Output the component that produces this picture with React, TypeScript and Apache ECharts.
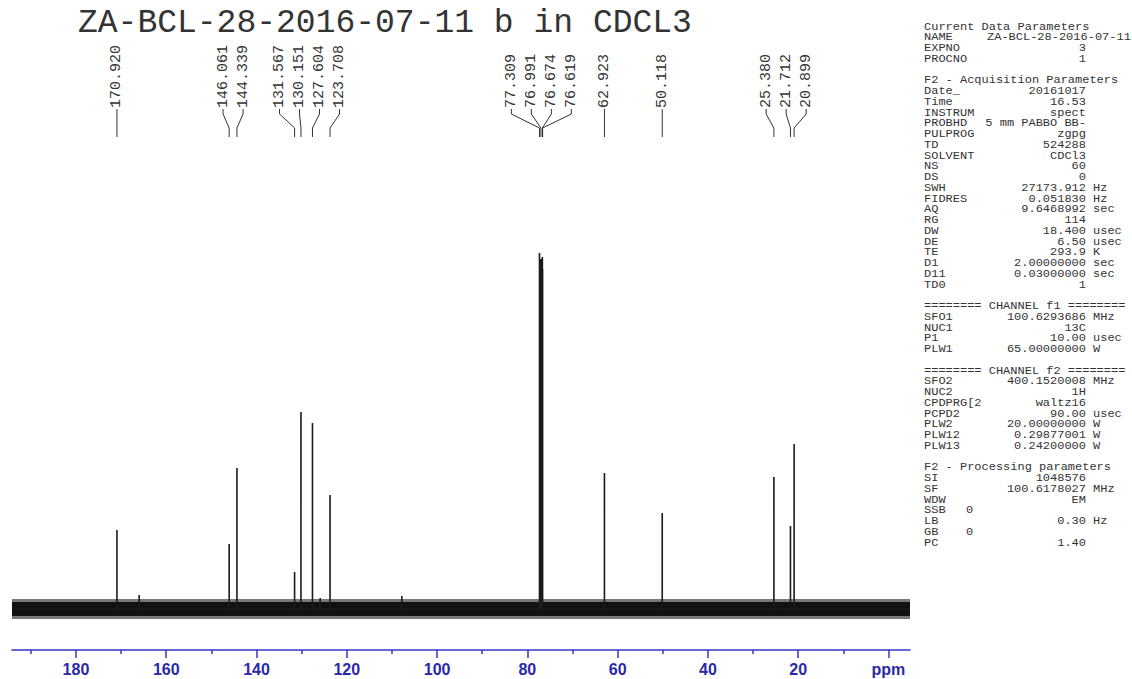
import React, { useEffect, useRef } from "react";
import * as echarts from "echarts";

// ---------- data ----------
const titleText = "ZA-BCL-28-2016-07-11 b in CDCL3";

const peakPpm = [170.92, 146.061, 144.339, 131.567, 130.151, 127.604, 123.708, 77.309, 76.991, 76.674, 76.619, 62.923, 50.118, 25.38, 21.712, 20.899];
const peakHeight = [79, 65, 141, 37, 197, 186, 114, 356, 350, 352, 340, 136, 96, 132, 83, 165];
const peakLabels = ["170.920", "146.061", "144.339", "131.567", "130.151", "127.604", "123.708", "77.309", "76.991", "76.674", "76.619", "62.923", "50.118", "25.380", "21.712", "20.899"];

// small noise spikes visible above the baseline band
const spikePpm = [166.0, 107.8, 125.9];
const spikeHeight = [14, 13, 11];

const majorTicks = [0, 20, 40, 60, 80, 100, 120, 140, 160, 180];
const minorTicks = [10, 30, 50, 70, 90, 110, 130, 150, 170, 190];

const noiseCore = 7;
const noiseFringe = 10;

const xMin = -4.77;
const xMax = 194.17;
const yMin = -41;
const yMax = 459;

// parameter panel: [name, value, unit, mode]  mode: h=heading, r=right aligned value, n/l=left value, b=blank
const paramLines: [string, string, string, string][] = [
  ["Current Data Parameters", "", "", "h"],
  ["NAME", "ZA-BCL-28-2016-07-11", "", "n"],
  ["EXPNO", "3", "", "r"],
  ["PROCNO", "1", "", "r"],
  ["", "", "", "b"],
  ["F2 - Acquisition Parameters", "", "", "h"],
  ["Date_", "20161017", "", "r"],
  ["Time", "16.53", "", "r"],
  ["INSTRUM", "spect", "", "r"],
  ["PROBHD", "5 mm PABBO BB-", "", "r"],
  ["PULPROG", "zgpg", "", "r"],
  ["TD", "524288", "", "r"],
  ["SOLVENT", "CDCl3", "", "r"],
  ["NS", "60", "", "r"],
  ["DS", "0", "", "r"],
  ["SWH", "27173.912", "Hz", "r"],
  ["FIDRES", "0.051830", "Hz", "r"],
  ["AQ", "9.6468992", "sec", "r"],
  ["RG", "114", "", "r"],
  ["DW", "18.400", "usec", "r"],
  ["DE", "6.50", "usec", "r"],
  ["TE", "293.9", "K", "r"],
  ["D1", "2.00000000", "sec", "r"],
  ["D11", "0.03000000", "sec", "r"],
  ["TD0", "1", "", "r"],
  ["", "", "", "b"],
  ["======== CHANNEL f1 ========", "", "", "h"],
  ["SFO1", "100.6293686", "MHz", "r"],
  ["NUC1", "13C", "", "r"],
  ["P1", "10.00", "usec", "r"],
  ["PLW1", "65.00000000", "W", "r"],
  ["", "", "", "b"],
  ["======== CHANNEL f2 ========", "", "", "h"],
  ["SFO2", "400.1520008", "MHz", "r"],
  ["NUC2", "1H", "", "r"],
  ["CPDPRG[2", "waltz16", "", "r"],
  ["PCPD2", "90.00", "usec", "r"],
  ["PLW2", "20.00000000", "W", "r"],
  ["PLW12", "0.29877001", "W", "r"],
  ["PLW13", "0.24200000", "W", "r"],
  ["", "", "", "b"],
  ["F2 - Processing parameters", "", "", "h"],
  ["SI", "1048576", "", "r"],
  ["SF", "100.6178027", "MHz", "r"],
  ["WDW", "EM", "", "r"],
  ["SSB", "0", "", "l"],
  ["LB", "0.30", "Hz", "r"],
  ["GB", "0", "", "l"],
  ["PC", "1.40", "", "r"],
];

// ---------- styles ----------
const MONO = '"Liberation Mono", "DejaVu Sans Mono", monospace';
const INK = "#333333";
const AXIS_BLUE = "#3535c8";
const LABEL_BLUE = "#2a2aa8";

function txt(x: number, y: number, text: string, font: string, align: string, extra: any = {}, lineHeight?: number) {
  const style: any = {
    text,
    font,
    fill: INK,
    align,
    textAlign: align,
    verticalAlign: "middle",
    textVerticalAlign: "middle",
  };
  if (lineHeight) style.lineHeight = lineHeight;
  return { type: "text", x, y, silent: true, ...extra, style };
}

export default function App() {
  const ref = useRef<HTMLDivElement>(null);

  useEffect(() => {
    const chart = echarts.init(ref.current!, null, { renderer: "svg" });

    const sticks: number[][] = [];
    const all = peakPpm
      .map((p, i) => [p, peakHeight[i]])
      .concat(spikePpm.map((p, i) => [p, spikeHeight[i]]))
      .sort((a, b) => b[0] - a[0]);
    sticks.push([xMax, 0]);
    for (const [p, h] of all) {
      sticks.push([p, 0], [p, h], [p, 0]);
    }
    sticks.push([xMin, 0]);

    const option: any = {
      animation: false,
      grid: { left: 12, right: 222, top: 150, bottom: 29, containLabel: false },
      xAxis: [
        {
          type: "value",
          inverse: true,
          min: xMin,
          max: xMax,
          position: "bottom",
          splitLine: { show: false },
          axisLine: { show: true, onZero: false, lineStyle: { color: AXIS_BLUE, width: 1.5 } },
          axisTick: { show: true, customValues: majorTicks, length: 8, lineStyle: { color: AXIS_BLUE, width: 1.5 } },
          axisLabel: {
            show: true,
            customValues: majorTicks,
            margin: 11,
            color: LABEL_BLUE,
            fontFamily: '"Liberation Sans", Arial, sans-serif',
            fontWeight: "bold",
            fontSize: 16,
            formatter: (v: number) => (v === 0 ? "ppm" : String(v)),
          },
        },
        {
          type: "value",
          inverse: true,
          min: xMin,
          max: xMax,
          position: "bottom",
          splitLine: { show: false },
          axisLine: { show: false, onZero: false },
          axisTick: { show: true, customValues: minorTicks, length: 4, lineStyle: { color: AXIS_BLUE, width: 1.5 } },
          axisLabel: { show: false },
        },
      ],
      yAxis: {
        type: "value",
        min: yMin,
        max: yMax,
        show: false,
        splitLine: { show: false },
      },
      series: [
        {
          type: "line",
          xAxisIndex: 0,
          data: sticks,
          symbol: "none",
          silent: true,
          lineStyle: { color: "#1a1a1a", width: 1.6 },
          markArea: {
            silent: true,
            data: [
              [
                { xAxis: xMax, yAxis: -noiseFringe, itemStyle: { color: "rgba(30,30,30,0.6)" } },
                { xAxis: xMin, yAxis: noiseFringe },
              ],
              [
                { xAxis: xMax, yAxis: -noiseCore, itemStyle: { color: "#111111" } },
                { xAxis: xMin, yAxis: noiseCore },
              ],
            ],
          },
          z: 3,
        },
      ],
    };
    chart.setOption(option);

    // ---------- annotation graphics ----------
    const graphics: any[] = [];
    graphics.push(txt(78, 23, titleText, `33px ${MONO}`, "left"));

    // peak labels: cluster peaks whose labels would collide, spread labels 20px apart around the cluster mean
    const labelGap = 20;
    const px = peakPpm.map((p) => chart.convertToPixel({ xAxisIndex: 0 }, p) as number);
    const order = peakPpm.map((_, i) => i).sort((a, b) => px[a] - px[b]);
    const groups: number[][] = [];
    for (const i of order) {
      const g = groups[groups.length - 1];
      if (g && px[i] - px[g[g.length - 1]] < labelGap) g.push(i);
      else groups.push([i]);
    }
    const labelBottom = 108;
    for (const g of groups) {
      const mean = g.reduce((s, i) => s + px[i], 0) / g.length;
      g.forEach((i, k) => {
        const lx = g.length === 1 ? px[i] : mean + (k - (g.length - 1) / 2) * labelGap;
        graphics.push(txt(lx, labelBottom, peakLabels[i], `15px ${MONO}`, "left", { rotation: Math.PI / 2 }));
        const pts =
          g.length === 1
            ? [[px[i], labelBottom + 1], [px[i], 137]]
            : [[lx, labelBottom + 1], [lx, 114], [px[i], 128], [px[i], 137]];
        graphics.push({
          type: "polyline",
          silent: true,
          shape: { points: pts },
          style: { stroke: INK, lineWidth: 1, fill: null },
        });
      });
    }

    // parameter panel (10px mono stretched horizontally to the 7.2px pitch of the reference)
    const nameX = 924;
    const valRight = 1086;
    const unitX = 1093;
    const nameValX = 987;
    const leftValX = 966;
    const sx = 1.2;
    const f = `10px ${MONO}`;
    paramLines.forEach(([name, value, unit, mode], li) => {
      const y = 27 + li * 10.75;
      if (mode === "b") return;
      const ex = { scaleX: sx };
      graphics.push(txt(nameX, y, name, f, "left", ex, 10));
      if (mode === "r") graphics.push(txt(valRight, y, value, f, "right", ex, 10));
      if (mode === "n") graphics.push(txt(nameValX, y, value, f, "left", ex, 10));
      if (mode === "l") graphics.push(txt(leftValX, y, value, f, "left", ex, 10));
      if (unit) graphics.push(txt(unitX, y, unit, f, "left", ex, 10));
    });

    chart.setOption({ graphic: { elements: graphics } });

    return () => chart.dispose();
  }, []);

  return (
    <div
      ref={ref}
      style={{ position: "fixed", left: 0, top: 0, width: 1132, height: 679, background: "#fff" }}
    />
  );
}
